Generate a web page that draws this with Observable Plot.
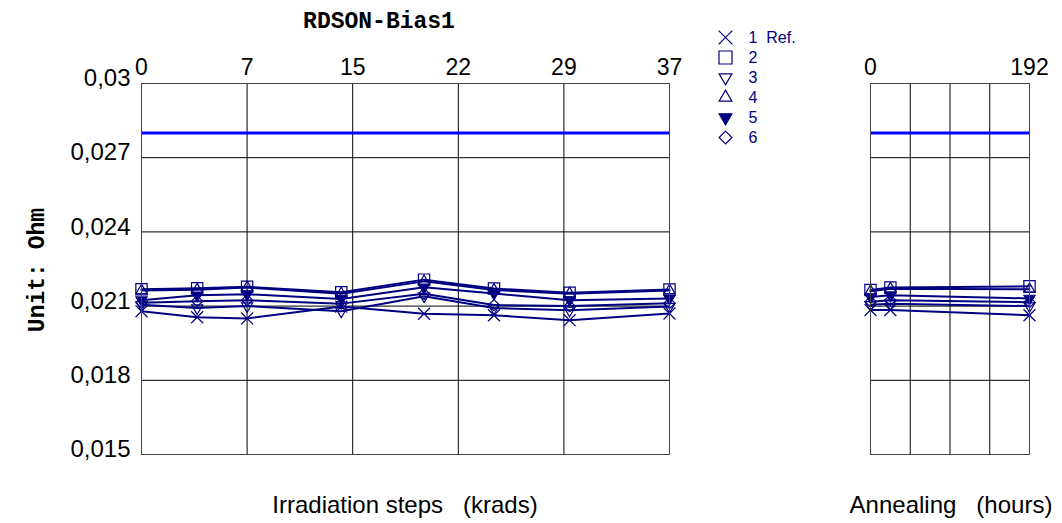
<!DOCTYPE html>
<html><head><meta charset="utf-8">
<script src="https://cdn.jsdelivr.net/npm/d3@7"></script>
<script src="https://cdn.jsdelivr.net/npm/@observablehq/plot@0.6"></script>
<style>
body{margin:0;background:#fff;}
#root{position:relative;width:1062px;height:523px;overflow:hidden;font-family:"Liberation Sans",Arial,sans-serif;}
#root > *{position:absolute;}
.mono{font-family:"Liberation Mono","DejaVu Sans Mono",monospace;font-weight:bold;color:#000;white-space:nowrap;}
.xl{font-size:24px;color:#000;white-space:pre;}
</style></head><body><div id="root"></div>
<script>
// ---- data ----
const title = "RDSON-Bias1";
const yLabel = "Unit: Ohm";
const irrLabel = "Irradiation steps   (krads)";
const annLabel = "Annealing   (hours)";
const seriesNames = ["1  Ref.", "2", "3", "4", "5", "6"];
const irrSteps = [0, 3.9, 7.4, 14, 19.8, 24.7, 30, 37];
const annHours = [0, 24, 192];
const irrTickValues = [0, 7.4, 14.8, 22.2, 29.6, 37];
const irrTickLabels = ["0", "7", "15", "22", "29", "37"];
const annGridValues = [0, 48, 96, 144, 192];
const annTickValues = [0, 192];
const annTickLabels = ["0", "192"];
const yTicks = [0.015, 0.018, 0.021, 0.024, 0.027, 0.03];
const yTickLabels = ["0,015", "0,018", "0,021", "0,024", "0,027", "0,03"];
const yDomain = [0.015, 0.03];
const limit = 0.028;
const irr1 = [0.02079, 0.02055, 0.02050, 0.02098, 0.02069, 0.02063, 0.02043, 0.02070];
const irr2 = [0.02168, 0.02172, 0.02178, 0.02156, 0.02207, 0.02171, 0.02154, 0.02167];
const irr3 = [0.02105, 0.02092, 0.02100, 0.02079, 0.02140, 0.02092, 0.02083, 0.02098];
const irr4 = [0.02163, 0.02166, 0.02175, 0.02150, 0.02200, 0.02165, 0.02150, 0.02163];
const irr5 = [0.02124, 0.02144, 0.02148, 0.02129, 0.02176, 0.02151, 0.02124, 0.02131];
const irr6 = [0.02114, 0.02120, 0.02124, 0.02110, 0.02150, 0.02104, 0.02100, 0.02112];
const ann1 = [0.02084, 0.02084, 0.02063];
const ann2 = [0.02165, 0.02175, 0.02180];
const ann3 = [0.02105, 0.02110, 0.02100];
const ann4 = [0.02160, 0.02170, 0.02168];
const ann5 = [0.02137, 0.02144, 0.02131];
const ann6 = [0.02118, 0.02124, 0.02116];

// ---- styles ----
const navy = "#000080";
const triDown = {draw(ctx, size){const s=Math.sqrt(size)*0.6824,t=s/2,u=s*Math.sqrt(3)/2;ctx.moveTo(0,s);ctx.lineTo(u,-t);ctx.lineTo(-u,-t);ctx.closePath();}};
const styles = [
  {symbol:"times", r:5.5, fill:"none"},
  {symbol:"square2", r:7.2, fill:"none"},
  {symbol:triDown, r:5.3, fill:"none"},
  {symbol:"triangle2", r:5.3, fill:"none"},
  {symbol:triDown, r:5.3, fill:navy},
  {symbol:"diamond2", r:5, fill:"none"}
];
const irrSeries = [irr1, irr2, irr3, irr4, irr5, irr6];
const annSeries = [ann1, ann2, ann3, ann4, ann5, ann6];
const font = "'Liberation Sans', Arial, sans-serif";

function seriesMarks(xs, series){
  const marks = [];
  series.forEach((vals) => {
    const d = xs.map((x, i) => ({x, y: vals[i]}));
    marks.push(Plot.line(d, {x:"x", y:"y", stroke:navy, strokeWidth:2}));
  });
  series.forEach((vals, k) => {
    const d = xs.map((x, i) => ({x, y: vals[i]}));
    const st = styles[k];
    marks.push(Plot.dot(d, {x:"x", y:"y", symbol:st.symbol, r:st.r, stroke:navy, strokeWidth:1.2, fill:st.fill}));
  });
  return marks;
}

const root = document.getElementById("root");
function place(el, left, top){el.style.left = left+"px"; el.style.top = top+"px"; root.appendChild(el); return el;}

const leftPlot = Plot.plot({
  width: 700, height: 523,
  marginLeft: 141, marginRight: 31, marginTop: 83, marginBottom: 69,
  style: {fontFamily: font, fontSize: "24px", color: "#000", background: "transparent", overflow: "visible"},
  x: {domain: [0, 37], axis: null, label: null},
  y: {domain: yDomain, axis: null, label: null},
  marks: [
    Plot.gridX(irrTickValues, {stroke:"#000", strokeOpacity:1}),
    Plot.gridY(yTicks, {stroke:"#000", strokeOpacity:1}),
    Plot.ruleY([limit], {stroke:"#0000ff", strokeWidth:3}),
    ...seriesMarks(irrSteps, irrSeries),
    Plot.axisX(irrTickValues, {anchor:"top", label:null, tickSize:0, tickPadding:9, tickFormat:d => irrTickLabels[irrTickValues.indexOf(d)], fontSize:23}),
    Plot.axisY(yTicks, {anchor:"left", label:null, tickSize:0, tickPadding:11, dy:-5, tickFormat:d => yTickLabels[yTicks.indexOf(d)], fontSize:24}),
    Plot.frame({stroke:"#444"})
  ]
});
place(leftPlot, 0, 0);

const rightPlot = Plot.plot({
  width: 222, height: 523,
  marginLeft: 30, marginRight: 33, marginTop: 83, marginBottom: 69,
  style: {fontFamily: font, fontSize: "23px", color: "#000", background: "transparent", overflow: "visible"},
  x: {domain: [0, 192], axis: null, label: null},
  y: {domain: yDomain, axis: null, label: null},
  marks: [
    Plot.gridX(annGridValues, {stroke:"#000", strokeOpacity:1}),
    Plot.gridY(yTicks, {stroke:"#000", strokeOpacity:1}),
    Plot.ruleY([limit], {stroke:"#0000ff", strokeWidth:3}),
    ...seriesMarks(annHours, annSeries),
    Plot.axisX(annTickValues, {anchor:"top", label:null, tickSize:0, tickPadding:9, tickFormat:d => annTickLabels[annTickValues.indexOf(d)], fontSize:23}),
    Plot.frame({stroke:"#444"})
  ]
});
place(rightPlot, 840, 0);

// legend
const legendData = seriesNames.map((name, i) => ({name, i}));
const legendMarks = [];
styles.forEach((st, k) => {
  legendMarks.push(Plot.dot([legendData[k]], {x:() => 0, y:"name", symbol:st.symbol, r:st.r * 1.15, stroke:navy, strokeWidth:1.2, fill:st.fill}));
});
legendMarks.push(Plot.text(legendData, {x:() => 1, y:"name", text:"name", textAnchor:"start", fill:navy, fontSize:16}));
const legend = Plot.plot({
  width: 130, height: 130, margin: 0,
  style: {fontFamily: font, background: "transparent", overflow: "visible"},
  x: {domain: [0, 1], range: [25, 48], axis: null, label: null},
  y: {type: "point", domain: seriesNames, range: [13, 117], padding: 0, axis: null, label: null},
  marks: legendMarks
});
place(legend, 700, 22);

// texts
const t = document.createElement("div"); t.className = "mono"; t.textContent = title;
t.style.fontSize = "23px"; t.style.width = "300px"; t.style.textAlign = "center"; t.style.lineHeight = "26px";
place(t, 229, 9);

const yl = document.createElement("div"); yl.className = "mono"; yl.textContent = yLabel;
yl.style.fontSize = "23px"; yl.style.width = "200px"; yl.style.textAlign = "center"; yl.style.lineHeight = "26px";
yl.style.transform = "rotate(-90deg)";
place(yl, 38 - 100, 270 - 13);

const xl1 = document.createElement("div"); xl1.className = "xl"; xl1.textContent = irrLabel;
xl1.style.width = "400px"; xl1.style.textAlign = "center"; xl1.style.lineHeight = "26px";
place(xl1, 405 - 200, 492);

const xl2 = document.createElement("div"); xl2.className = "xl"; xl2.textContent = annLabel;
xl2.style.width = "300px"; xl2.style.textAlign = "center"; xl2.style.lineHeight = "26px";
place(xl2, 951 - 150, 492);
</script>
</body></html>
